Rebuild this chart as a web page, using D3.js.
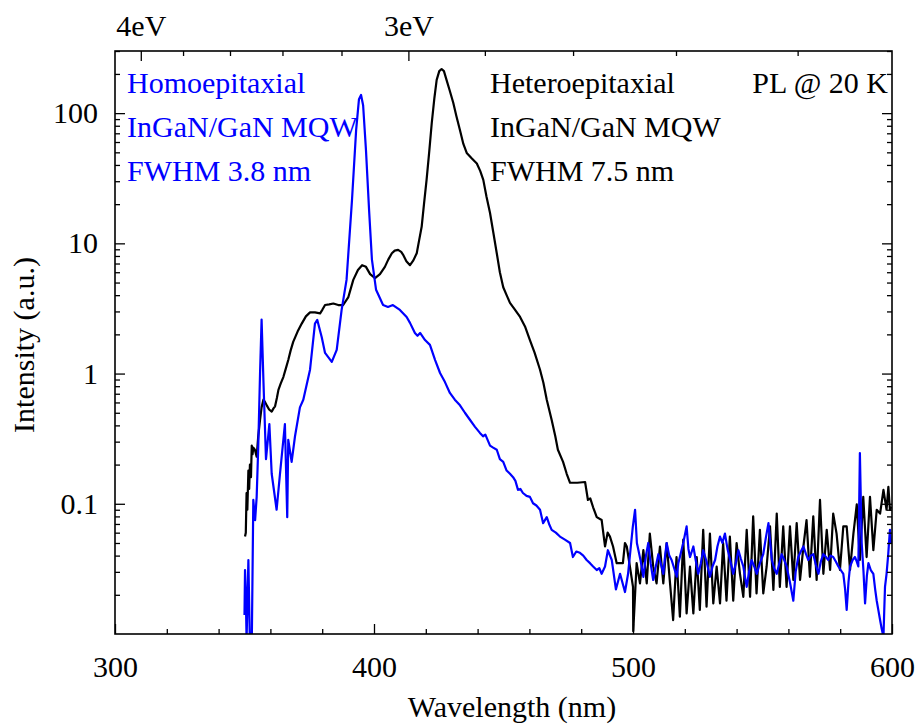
<!DOCTYPE html>
<html>
<head>
<meta charset="utf-8">
<script src="https://cdn.jsdelivr.net/npm/d3@7"></script>
<style>
  body { margin: 0; background: #fff; }
  text { font-family: "Liberation Serif", "DejaVu Serif", serif; }
</style>
</head>
<body>
<div id="chart"></div>
<script>
// Heteroepitaxial PL spectrum: [wavelength nm, intensity a.u.]
const hetero = [
  [350.2,0.056],[350.5,0.06],[350.8,0.121],[351.1,0.09],[351.5,0.18],[351.8,0.13],[352.1,0.2],[352.5,0.16],
  [352.8,0.28],[353.1,0.24],[353.4,0.27],[354.0,0.26],[354.7,0.23],[355.3,0.33],[356.0,0.44],[356.6,0.55],
  [357.3,0.63],[358.0,0.6],[358.6,0.57],[359.5,0.53],[360.5,0.51],[361.2,0.54],[361.8,0.56],[362.5,0.65],
  [363.1,0.75],[364.0,0.84],[365.0,0.94],[366.0,1.1],[366.9,1.27],[367.8,1.5],[368.8,1.75],[370.5,2.1],
  [372.1,2.42],[373.7,2.75],[375.3,2.95],[377.2,2.95],[379.2,2.9],[380.1,3.1],[381.1,3.36],[382.7,3.4],
  [384.3,3.45],[386.2,3.36],[388.1,3.36],[390.1,3.87],[392.0,5.24],[393.8,6.25],[395.4,6.8],[396.9,6.6],
  [398.5,5.8],[400.4,5.4],[402.3,5.8],[404.2,6.6],[405.5,7.5],[406.9,8.4],[408.0,8.8],[409.3,8.9],
  [410.5,8.6],[411.2,8.2],[412.5,7.3],[413.9,6.8],[415.2,7.4],[416.5,8.4],[417.4,10.5],[418.4,13.4],
  [419.3,20],[420.3,30.7],[421.3,50],[422.3,84],[423.3,130],[424.2,180],[425.2,210],[426.1,218],
  [427.0,210],[428.0,180],[429.2,150],[430.6,120],[431.8,95],[433.2,74],[434.5,58],[435.8,49.5],
  [437.7,45],[439.7,41],[441.0,36],[442.2,30.7],[443.4,23],[444.8,17.1],[446.1,12],[447.4,8.4],
  [448.6,6],[449.9,4.6],[451.2,4.0],[452.5,3.49],[454.4,3.1],[456.4,2.72],[458.3,2.3],[460.2,1.81],
  [462.0,1.45],[464.1,1.07],[465.4,0.85],[466.7,0.63],[468.6,0.44],[470.0,0.33],[471.0,0.26],[473.0,0.21],
  [474.4,0.17],[475.7,0.145],[478.5,0.145],[481.5,0.147],[482.6,0.107],[483.5,0.11],[484.6,0.094],[486.0,0.079],
  [487.9,0.075],[489.2,0.047],[490.2,0.06],[491.1,0.056],[492.3,0.047],[493.7,0.035],[496.1,0.035],[496.9,0.05],
  [497.6,0.047],[498.8,0.033],[500.0,0.023],[500.1,0.0105],[501.4,0.035],[502.7,0.0245],[504.0,0.044],[505.3,0.0245],
  [506.5,0.059],[507.8,0.033],[509.1,0.0245],[510.4,0.047],[511.7,0.0245],[513.0,0.050],[514.3,0.0245],[515.5,0.0128],
  [516.8,0.039],[518.1,0.0136],[519.4,0.053],[520.7,0.0144],[522.0,0.033],[523.3,0.0144],[524.6,0.039],[525.8,0.0153],
  [527.1,0.063],[528.4,0.0162],[529.7,0.059],[531.0,0.0172],[532.3,0.033],[533.6,0.0172],[534.8,0.050],[536.1,0.018],
  [537.4,0.056],[538.7,0.018],[540.0,0.050],[541.3,0.029],[542.6,0.0193],[543.9,0.063],[545.2,0.0193],[546.4,0.080],
  [547.7,0.0205],[549.0,0.063],[550.3,0.0205],[551.6,0.033],[552.9,0.067],[554.2,0.0218],[555.5,0.084],[556.7,0.023],
  [558.0,0.067],[559.3,0.023],[560.6,0.067],[561.9,0.026],[563.2,0.071],[564.5,0.026],[565.8,0.047],[567.0,0.075],
  [568.3,0.0275],[569.6,0.080],[570.9,0.026],[572.2,0.107],[573.5,0.029],[574.8,0.063],[576.1,0.031],[577.3,0.084],
  [578.6,0.059],[579.9,0.031],[581.2,0.067],[582.5,0.067],[583.8,0.031],[585.1,0.059],[586.4,0.099],[587.6,0.037],
  [588.9,0.113],[590.2,0.039],[591.5,0.113],[592.8,0.044],[594.1,0.090],[595.4,0.084],[596.7,0.128],[597.9,0.090],
  [598.6,0.135],[599.2,0.090],[599.8,0.095]
];

// Homoepitaxial PL spectrum: [wavelength nm, intensity a.u.]
const homo = [
  [350.0,0.014],[350.2,0.031],[350.5,0.02],[350.8,0.009],[351.5,0.037],[352.1,0.008],[352.8,0.008],[353.4,0.107],
  [354.1,0.075],[354.7,0.113],[355.3,0.27],[356.0,1.0],[356.6,2.6],[357.3,0.89],[358.3,0.22],[359.6,0.41],
  [360.5,0.17],[362.4,0.090],[363.7,0.17],[365.6,0.41],[366.5,0.079],[366.9,0.31],[368.2,0.21],[369.5,0.33],
  [371.4,0.55],[372.7,0.63],[375.3,1.07],[377.2,2.42],[378.1,2.58],[379.8,1.91],[381.1,1.44],[383.7,1.23],
  [385.6,1.52],[387.5,3.08],[389.4,5.24],[391.5,21.5],[393.1,74],[394.2,128],[395.0,138],[395.8,115],
  [396.9,52],[398.1,18],[399.2,7.5],[400.8,4.4],[403.5,3.36],[405.4,3.25],[407.3,3.36],[410.0,3.08],
  [412.6,2.72],[413.9,2.45],[415.8,2.05],[416.8,1.95],[417.8,2.05],[419.7,1.81],[421.6,1.66],[423.6,1.27],
  [425.5,1.01],[427.4,0.86],[429.3,0.71],[431.2,0.63],[433.2,0.57],[435.1,0.5],[437.1,0.44],[439.0,0.39],
  [440.9,0.35],[442.1,0.33],[443.0,0.34],[444.8,0.28],[446.0,0.27],[447.4,0.26],[448.6,0.22],[449.9,0.21],
  [451.2,0.18],[452.5,0.17],[453.7,0.16],[454.6,0.15],[455.6,0.128],[456.5,0.13],[457.5,0.121],[458.9,0.115],
  [460.2,0.113],[461.4,0.101],[462.7,0.097],[464.1,0.090],[465.3,0.071],[466.7,0.079],[467.6,0.07],[468.6,0.063],
  [470.2,0.06],[471.8,0.056],[473.7,0.053],[475.7,0.050],[476.8,0.039],[478.1,0.043],[479.5,0.042],[480.8,0.04],
  [482.1,0.037],[483.4,0.035],[484.6,0.033],[486.0,0.031],[487.0,0.032],[487.9,0.029],[489.2,0.033],[490.3,0.044],
  [491.8,0.037],[493.4,0.022],[495.0,0.029],[496.9,0.021],[498.1,0.029],[499.9,0.066],[500.8,0.090],[501.5,0.05],
  [502.1,0.044],[503.0,0.036],[504.0,0.0275],[505.0,0.04],[505.9,0.050],[506.8,0.035],[507.8,0.026],[508.8,0.033],
  [509.8,0.041],[510.7,0.035],[511.7,0.029],[512.4,0.04],[513.0,0.050],[514.0,0.04],[514.9,0.037],[515.9,0.032],
  [516.9,0.0275],[517.5,0.035],[518.1,0.039],[519.4,0.05],[520.7,0.067],[521.4,0.045],[522.0,0.039],[522.7,0.043],
  [523.3,0.047],[524.2,0.037],[525.2,0.029],[526.2,0.035],[527.1,0.044],[528.4,0.036],[529.7,0.0275],[530.7,0.033],
  [531.7,0.037],[532.6,0.047],[533.6,0.056],[534.5,0.05],[535.5,0.059],[536.5,0.045],[537.5,0.037],[538.1,0.033],
  [538.7,0.029],[539.7,0.035],[540.7,0.044],[541.6,0.038],[542.6,0.033],[543.3,0.027],[543.9,0.023],[544.8,0.03],
  [545.8,0.037],[546.8,0.033],[547.8,0.029],[549.0,0.035],[550.3,0.041],[551.3,0.055],[552.3,0.071],[553.0,0.05],
  [553.6,0.037],[554.5,0.032],[555.5,0.029],[556.5,0.035],[557.4,0.041],[558.4,0.037],[559.3,0.033],[560.6,0.025],
  [561.9,0.018],[562.8,0.03],[563.8,0.039],[564.8,0.043],[565.8,0.047],[566.8,0.041],[567.7,0.037],[568.6,0.04],
  [569.6,0.041],[570.6,0.034],[571.6,0.029],[572.5,0.036],[573.5,0.041],[574.5,0.039],[575.4,0.037],[576.3,0.04],
  [577.3,0.039],[578.3,0.036],[579.3,0.033],[580.2,0.031],[581.2,0.029],[581.9,0.022],[582.5,0.0153],[583.2,0.025],
  [583.8,0.033],[584.8,0.037],[585.7,0.039],[586.4,0.036],[587.0,0.033],[587.6,0.245],[588.3,0.05],[589.0,0.03],
  [589.6,0.0172],[590.3,0.028],[590.9,0.035],[591.8,0.031],[592.8,0.029],[593.5,0.022],[594.1,0.018],[594.8,0.015],
  [595.4,0.0128],[596.0,0.011],[596.7,0.0095],[597.0,0.015],[597.3,0.023],[597.9,0.029],[598.5,0.04],[599.2,0.063],
  [599.6,0.05]
];

const nmMajor = [300, 400, 500, 600];
const nmMinor = [320, 340, 360, 380, 420, 440, 460, 480, 520, 540, 560, 580];
const yMajor = [0.1, 1, 10, 100];
const yMinor = [0.02,0.03,0.04,0.05,0.06,0.07,0.08,0.09, 0.2,0.3,0.4,0.5,0.6,0.7,0.8,0.9,
                2,3,4,5,6,7,8,9, 20,30,40,50,60,70,80,90, 200,300];
const eVMajor = [4, 3];
const eVMinor = [3.8, 3.6, 3.4, 3.2, 2.8, 2.6, 2.4, 2.2];

const homoLabel = ['Homoepitaxial', 'InGaN/GaN MQW', 'FWHM 3.8 nm'];
const heteroLabel = ['Heteroepitaxial', 'InGaN/GaN MQW', 'FWHM 7.5 nm'];

const W = 917, H = 726;
const margin = { top: 51, right: 25, bottom: 92, left: 115 };
const FS = '30px';

const svg = d3.select('#chart').append('svg')
    .attr('width', W)
    .attr('height', H);

const x = d3.scaleLinear().domain([300, 600]).range([margin.left, W - margin.right]);
const y = d3.scaleLog().domain([0.01, 300]).range([H - margin.bottom, margin.top]);
const hc = 1239.84; // eV * nm
const ev2nm = e => hc / e;

// clip for curves
svg.append('clipPath').attr('id', 'plotclip')
    .append('rect')
    .attr('x', margin.left).attr('y', margin.top)
    .attr('width', W - margin.left - margin.right)
    .attr('height', H - margin.top - margin.bottom);

const line = d3.line().x(d => x(d[0])).y(d => y(d[1]));

const curves = svg.append('g').attr('clip-path', 'url(#plotclip)');
curves.append('path').datum(hetero)
    .attr('fill', 'none').attr('stroke', '#000').attr('stroke-width', 2.2)
    .attr('stroke-linejoin', 'round').attr('d', line);
curves.append('path').datum(homo)
    .attr('fill', 'none').attr('stroke', '#0000ff').attr('stroke-width', 2.2)
    .attr('stroke-linejoin', 'round').attr('d', line);

// axes helper
function styleAxis(g) {
    g.select('.domain').remove();
    g.selectAll('line').attr('stroke', '#000').attr('stroke-width', 1.3);
    g.selectAll('text').style('font-size', FS).style('font-family', '"Liberation Serif", serif').attr('fill', '#000');
}

const bottomY = H - margin.bottom, rightX = W - margin.right;

// bottom axis
svg.append('g').attr('transform', `translate(0,${bottomY})`)
    .call(d3.axisBottom(x).tickValues(nmMajor).tickSize(-10).tickPadding(22).tickFormat(d3.format('d')))
    .call(styleAxis);
svg.append('g').attr('transform', `translate(0,${bottomY})`)
    .call(d3.axisBottom(x).tickValues(nmMinor).tickSize(-5).tickFormat(''))
    .call(styleAxis);

// top axis in eV
svg.append('g').attr('transform', `translate(0,${margin.top})`)
    .call(d3.axisTop(x).tickValues(eVMajor.map(ev2nm)).tickSize(-10).tickPadding(15)
        .tickFormat((d, i) => eVMajor[i] + 'eV'))
    .call(styleAxis);
svg.append('g').attr('transform', `translate(0,${margin.top})`)
    .call(d3.axisTop(x).tickValues(eVMinor.map(ev2nm)).tickSize(-5).tickFormat(''))
    .call(styleAxis);

// left axis
svg.append('g').attr('transform', `translate(${margin.left},0)`)
    .call(d3.axisLeft(y).tickValues(yMajor).tickSize(-10).tickPadding(17).tickFormat(d => d3.format('~g')(d)))
    .call(styleAxis);
svg.append('g').attr('transform', `translate(${margin.left},0)`)
    .call(d3.axisLeft(y).tickValues(yMinor).tickSize(-5).tickFormat(''))
    .call(styleAxis);

// right axis
svg.append('g').attr('transform', `translate(${rightX},0)`)
    .call(d3.axisRight(y).tickValues(yMajor).tickSize(-10).tickFormat(''))
    .call(styleAxis);
svg.append('g').attr('transform', `translate(${rightX},0)`)
    .call(d3.axisRight(y).tickValues(yMinor).tickSize(-5).tickFormat(''))
    .call(styleAxis);

// frame
svg.append('rect')
    .attr('x', margin.left).attr('y', margin.top)
    .attr('width', rightX - margin.left).attr('height', bottomY - margin.top)
    .attr('fill', 'none').attr('stroke', '#000').attr('stroke-width', 1.6);

// axis titles
svg.append('text')
    .attr('x', 512).attr('y', 717)
    .attr('text-anchor', 'middle').style('font-size', FS)
    .text('Wavelength (nm)');

svg.append('text')
    .attr('transform', 'translate(34,345) rotate(-90)')
    .attr('text-anchor', 'middle').style('font-size', FS)
    .text('Intensity (a.u.)');

// annotations
svg.append('g').selectAll('text').data(homoLabel).enter().append('text')
    .attr('x', 127).attr('y', (d, i) => 93 + i * 44)
    .attr('fill', '#0000ff').style('font-size', FS)
    .text(d => d);

svg.append('g').selectAll('text').data(heteroLabel).enter().append('text')
    .attr('x', 490).attr('y', (d, i) => 93 + i * 44)
    .attr('fill', '#000').style('font-size', FS)
    .text(d => d);

svg.append('text')
    .attr('x', 888).attr('y', 93)
    .attr('text-anchor', 'end').style('font-size', FS)
    .text('PL @ 20 K');
</script>
</body>
</html>
